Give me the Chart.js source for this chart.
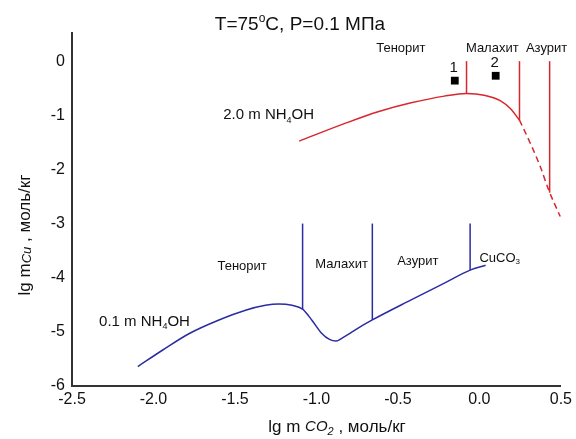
<!DOCTYPE html>
<html>
<head>
<meta charset="utf-8">
<script src="https://cdn.jsdelivr.net/npm/chart.js@4.4.1/dist/chart.umd.min.js"></script>
<style>
  html, body { margin: 0; padding: 0; background: #fff; }
  canvas { display: block; }
</style>
</head>
<body>
<canvas id="diagram" width="576" height="439"></canvas>
<script>
// axis ticks
const co2Ticks = [-2.5, -2.0, -1.5, -1.0, -0.5, 0.0, 0.5];
const cuTicks = [-6, -5, -4, -3, -2, -1, 0];

// 2.0 m NH4OH - solubility curve (solid part + dashed metastable part)
const red20X = [-1.106, -0.825, -0.622, -0.419, -0.215, -0.079, 0.029, 0.13, 0.19, 0.246];
const red20Y = [-1.477, -1.15, -0.935, -0.77, -0.646, -0.597, -0.628, -0.733, -0.875, -1.09];
const red20DashX = [0.246, 0.313, 0.374, 0.425, 0.496];
const red20DashY = [-1.09, -1.52, -1.95, -2.38, -2.87];
// phase boundaries for 2.0 m
const red20BoundX = [-0.079, 0.246, 0.431];
const red20BoundLow = [-0.597, -1.09, -2.43];
const red20BoundTop = 0;

// 0.1 m NH4OH
const blue01X = [-2.096, -1.943, -1.78, -1.598, -1.435, -1.313, -1.232, -1.15, -1.085, -1.029, -0.967, -0.92, -0.88, -0.84, -0.79, -0.744, -0.657, -0.419, -0.215, -0.057, 0.038];
const blue01Y = [-5.64, -5.335, -5.03, -4.78, -4.60, -4.51, -4.486, -4.51, -4.58, -4.78, -5.03, -5.14, -5.17, -5.11, -5.02, -4.93, -4.78, -4.41, -4.10, -3.86, -3.77];
const blue01BoundX = [-1.085, -0.657, -0.057];
const blue01BoundLow = [-4.58, -4.78, -3.86];
const blue01BoundTop = -3;

// experimental points
const expX = [-0.151, 0.10];
const expY = [-0.36, -0.27];
const expNames = ['1', '2'];

const RED = '#d8262f';
const BLUE = '#2b2ba3';
const FONT = '"Liberation Sans", Arial, sans-serif';

const pts = (xs, ys) => xs.map((x, i) => ({ x: x, y: ys[i] }));

const datasets = [
  {
    data: pts(red20X, red20Y),
    borderColor: RED, borderWidth: 1.5, showLine: true, pointRadius: 0,
    cubicInterpolationMode: 'monotone'
  },
  {
    data: pts(red20DashX, red20DashY),
    borderColor: RED, borderWidth: 1.5, showLine: true, pointRadius: 0,
    borderDash: [6, 4], cubicInterpolationMode: 'monotone'
  },
  {
    data: pts(blue01X, blue01Y),
    borderColor: BLUE, borderWidth: 1.5, showLine: true, pointRadius: 0,
    cubicInterpolationMode: 'monotone'
  }
];

red20BoundX.forEach((x, i) => datasets.push({
  data: [{ x: x, y: red20BoundLow[i] }, { x: x, y: red20BoundTop }],
  borderColor: RED, borderWidth: 1.5, showLine: true, pointRadius: 0
}));
blue01BoundX.forEach((x, i) => datasets.push({
  data: [{ x: x, y: blue01BoundLow[i] }, { x: x, y: blue01BoundTop }],
  borderColor: BLUE, borderWidth: 1.5, showLine: true, pointRadius: 0
}));

datasets.push({
  data: pts(expX, expY),
  pointStyle: 'rect', pointRadius: 5.5, pointBackgroundColor: '#000',
  pointBorderColor: '#000', borderWidth: 0, showLine: false
});

// text placed in data units
const phaseLabels = [
  { text: 'Тенорит', x: -0.482, y: 0.24 },
  { text: 'Малахит', x: 0.079, y: 0.24 },
  { text: 'Азурит', x: 0.412, y: 0.24 },
  { text: 'Тенорит', x: -1.456, y: -3.80 },
  { text: 'Малахит', x: -0.846, y: -3.75 },
  { text: 'Азурит', x: -0.378, y: -3.70 }
];

// draw a run of text pieces: [text, font, dy]
function richText(ctx, parts, x, y, align) {
  let total = 0;
  parts.forEach(p => { ctx.font = p[1]; total += ctx.measureText(p[0]).width; });
  let cx = align === 'center' ? x - total / 2 : x;
  ctx.textAlign = 'left';
  parts.forEach(p => {
    ctx.font = p[1];
    ctx.fillText(p[0], cx, y + (p[2] || 0));
    cx += ctx.measureText(p[0]).width;
  });
}

const decor = {
  id: 'decor',
  afterDraw(chart) {
    const ctx = chart.ctx;
    const xs = chart.scales.x, ys = chart.scales.y;
    ctx.save();
    ctx.fillStyle = '#111';
    ctx.textBaseline = 'middle';

    // title
    richText(ctx, [
      ['T=75', '19px ' + FONT, 0],
      ['o', '12px ' + FONT, -6],
      ['C, P=0.1 МПа', '19px ' + FONT, 0]
    ], 300, 25, 'center');

    ctx.font = '13px ' + FONT;
    ctx.textAlign = 'center';
    phaseLabels.forEach(l => {
      ctx.fillText(l.text, xs.getPixelForValue(l.x), ys.getPixelForValue(l.y));
    });

    richText(ctx, [
      ['CuCO', '13px ' + FONT, 0],
      ['3', '8px ' + FONT, 4]
    ], xs.getPixelForValue(0.0), ys.getPixelForValue(-3.64), 'left');

    richText(ctx, [
      ['2.0 m NH', '15px ' + FONT, 0],
      ['4', '9px ' + FONT, 5],
      ['OH', '15px ' + FONT, 0]
    ], xs.getPixelForValue(-1.293), ys.getPixelForValue(-1.0), 'center');

    richText(ctx, [
      ['0.1 m NH', '15px ' + FONT, 0],
      ['4', '9px ' + FONT, 5],
      ['OH', '15px ' + FONT, 0]
    ], xs.getPixelForValue(-2.055), ys.getPixelForValue(-4.81), 'center');

    ctx.font = '15px ' + FONT;
    ctx.textAlign = 'center';
    expNames.forEach((n, i) => {
      ctx.fillText(n, xs.getPixelForValue(expX[i]) - 1, ys.getPixelForValue(expY[i]) - 13);
    });

    // x axis title
    richText(ctx, [
      ['lg m ', '17px ' + FONT, 0],
      ['CO', 'italic 15px ' + FONT, 0],
      ['2', 'italic 11px ' + FONT, 5],
      [' , моль/кг', '17px ' + FONT, 0]
    ], 337, 427, 'center');

    // y axis title
    ctx.translate(25, 235);
    ctx.rotate(-Math.PI / 2);
    richText(ctx, [
      ['lg m', '17px ' + FONT, 0],
      ['Cu', 'italic 13px ' + FONT, 2],
      [' , моль/кг', '17px ' + FONT, 0]
    ], 0, 0, 'center');
    ctx.restore();
  }
};

new Chart(document.getElementById('diagram'), {
  type: 'scatter',
  data: { datasets: datasets },
  plugins: [decor],
  options: {
    responsive: false,
    animation: false,
    devicePixelRatio: 1,
    layout: { padding: { left: 0, right: 12, top: 33, bottom: 0 } },
    plugins: { legend: { display: false }, tooltip: { enabled: false } },
    scales: {
      x: {
        type: 'linear', min: -2.5, max: 0.5,
        afterBuildTicks: s => { s.ticks = co2Ticks.map(v => ({ value: v })); },
        afterFit: s => { s.height = 53; },
        grid: { display: false, drawTicks: false },
        border: { display: true, color: '#333', width: 2 },
        ticks: {
          padding: 4, color: '#111', font: { family: FONT, size: 16 },
          maxRotation: 0, autoSkip: false,
          callback: v => v.toFixed(1)
        }
      },
      y: {
        type: 'linear', min: -6, max: 0.52,
        afterBuildTicks: s => { s.ticks = cuTicks.map(v => ({ value: v })); },
        afterFit: s => { s.width = 72; },
        grid: { display: false, drawTicks: false },
        border: { display: true, color: '#333', width: 2 },
        ticks: {
          padding: 7, color: '#111', font: { family: FONT, size: 16 },
          autoSkip: false,
          callback: v => String(v)
        }
      }
    }
  }
});
</script>
</body>
</html>
